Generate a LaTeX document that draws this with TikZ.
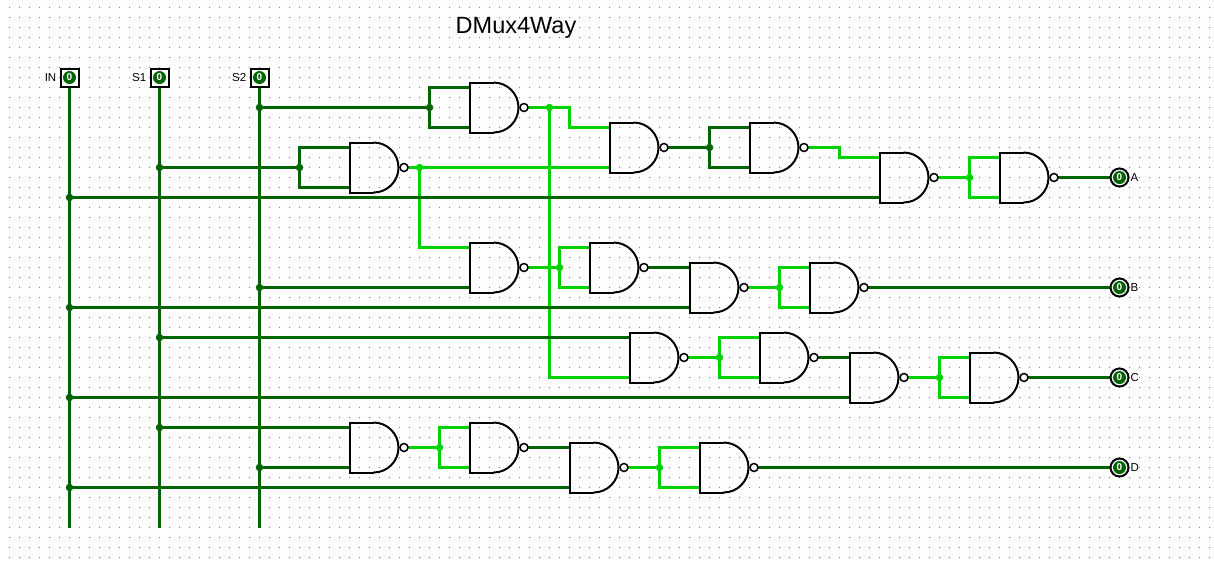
\documentclass[tikz,border=0pt]{standalone}
\usepackage{fontspec}
\setmainfont{Liberation Sans}
\usetikzlibrary{backgrounds}
\definecolor{offgreen}{RGB}{0,100,0}
\definecolor{ongreen}{RGB}{0,210,0}
\definecolor{griddot}{RGB}{128,128,128}
\tikzset{
  offwire/.style={draw=offgreen,line width=3pt},
  onwire/.style={draw=ongreen,line width=3pt},
  offjoint/.style={circle,fill=offgreen,inner sep=0pt,minimum size=7.5pt},
  onjoint/.style={circle,fill=ongreen,inner sep=0pt,minimum size=7.5pt},
  gateline/.style={draw=black,line width=2pt},
  nandg/.pic={
    \draw[gateline] (24,-25) -- (0,-25) -- (0,25) -- (24,25);
    \draw[gateline] (24,-25) arc [start angle=90,end angle=-90,radius=25pt];
    \draw[draw=black,line width=1.5pt] (54.5,0) circle [radius=4pt];
    \coordinate (-a) at (0,-20);
    \coordinate (-b) at (0,20);
    \coordinate (-out) at (58,0);
  },
  inpin/.style={rectangle,draw=black,line width=2pt,inner sep=0pt,minimum size=18pt},
  outpin/.style={circle,draw=black,line width=2pt,inner sep=0pt,minimum size=18pt},
  pinval/.style={circle,fill=offgreen,text=white,inner sep=0pt,minimum size=13pt,font=\fontsize{10}{10}\selectfont\bfseries},
  pinlabel/.style={font=\fontsize{11.5}{11.5}\selectfont,inner sep=0pt}
}
\begin{document}
\begin{tikzpicture}[x=1pt,y=-1pt]
\useasboundingbox (0.5,-0.5) rectangle (1214.5,565.5);
% editing grid
\begin{scope}[on background layer]
\fill[griddot] \foreach \gx in {10,20,...,1210} {\foreach \gy in {7,17,...,557} {(\gx-0.5,\gy-0.5) rectangle ++(1,1)}};
\end{scope}

\node[font=\fontsize{23.5}{23.5}\selectfont,inner sep=0pt,anchor=base west] (title) at (456,33) {DMux4Way};

% input pins
\node[inpin] (in) at (70,77) {};
\node[inpin] (sa) at (160,77) {};
\node[inpin] (sb) at (260,77) {};
\node[pinval] (inv) at (in) {0};
\node[pinval] (sav) at (sa) {0};
\node[pinval] (sbv) at (sb) {0};
\node[pinlabel,left=3pt] (inl) at (in.west) {IN};
\node[pinlabel,left=3pt] (sal) at (sa.west) {S1};
\node[pinlabel,left=3pt] (sbl) at (sb.west) {S2};
\coordinate (inend) at (70,527);
\coordinate (saend) at (160,527);
\coordinate (sbend) at (260,527);

% gates
\pic (n1) at (470,107) {nandg};
\pic (n2) at (350,167) {nandg};
\pic (n3) at (610,147) {nandg};
\pic (n4) at (750,147) {nandg};
\pic (n5) at (880,177) {nandg};
\pic (n6) at (1000,177) {nandg};
\pic (n7) at (470,267) {nandg};
\pic (n8) at (590,267) {nandg};
\pic (n9) at (690,287) {nandg};
\pic (n10) at (810,287) {nandg};
\pic (n11) at (630,357) {nandg};
\pic (n12) at (760,357) {nandg};
\pic (n13) at (850,377) {nandg};
\pic (n14) at (970,377) {nandg};
\pic (n15) at (350,447) {nandg};
\pic (n16) at (470,447) {nandg};
\pic (n17) at (570,467) {nandg};
\pic (n18) at (700,467) {nandg};

% output pins
\node[outpin] (pa) at (1120,177) {};
\node[outpin] (pb) at (1120,287) {};
\node[outpin] (pc) at (1120,377) {};
\node[outpin] (pd) at (1120,467) {};
\node[pinval] (pav) at (pa) {0};
\node[pinval] (pbv) at (pb) {0};
\node[pinval] (pcv) at (pc) {0};
\node[pinval] (pdv) at (pd) {0};
\node[pinlabel,right=1pt] (pal) at (pa.east) {A};
\node[pinlabel,right=1pt] (pbl) at (pb.east) {B};
\node[pinlabel,right=1pt] (pcl) at (pc.east) {C};
\node[pinlabel,right=1pt] (pdl) at (pd.east) {D};

% joints
\node[offjoint] (j1) at (260,107) {};
\node[offjoint] (j2) at (160,167) {};
\node[offjoint] (j3) at (70,197) {};
\node[offjoint] (j4) at (260,287) {};
\node[offjoint] (j5) at (70,307) {};
\node[offjoint] (j6) at (160,337) {};
\node[offjoint] (j7) at (70,397) {};
\node[offjoint] (j8) at (160,427) {};
\node[offjoint] (j9) at (260,467) {};
\node[offjoint] (j10) at (70,487) {};
\node[offjoint] (k1) at (430,107) {};
\node[offjoint] (k2) at (300,167) {};
\node[offjoint] (k3) at (710,147) {};
\node[onjoint] (m1) at (550,107) {};
\node[onjoint] (m2) at (420,167) {};
\node[onjoint] (m3) at (970,177) {};
\node[onjoint] (m4) at (560,267) {};
\node[onjoint] (m5) at (780,287) {};
\node[onjoint] (m6) at (720,357) {};
\node[onjoint] (m7) at (940,377) {};
\node[onjoint] (m8) at (440,447) {};
\node[onjoint] (m9) at (660,467) {};

\begin{scope}[on background layer]
% wires that are high
\draw[onwire] (n1-out) -- (m1) -- ++(20,0) |- (n3-a);
\draw[onwire] (m1) |- (n11-b);
\draw[onwire] (n2-out) -- (m2) -- (n3-b);
\draw[onwire] (m2) |- (n7-a);
\draw[onwire] (n4-out) -- ++(32,0) -- ++(0,10) -- (n5-a);
\draw[onwire] (n5-out) -- (m3);
\draw[onwire] (n6-a) -| (m3) |- (n6-b);
\draw[onwire] (n7-out) -- (m4);
\draw[onwire] (n8-a) -| (m4) |- (n8-b);
\draw[onwire] (n9-out) -- (m5);
\draw[onwire] (n10-a) -| (m5) |- (n10-b);
\draw[onwire] (n11-out) -- (m6);
\draw[onwire] (n12-a) -| (m6) |- (n12-b);
\draw[onwire] (n13-out) -- (m7);
\draw[onwire] (n14-a) -| (m7) |- (n14-b);
\draw[onwire] (n15-out) -- (m8);
\draw[onwire] (n16-a) -| (m8) |- (n16-b);
\draw[onwire] (n17-out) -- (m9);
\draw[onwire] (n18-a) -| (m9) |- (n18-b);
% wires that are low
\draw[offwire] (in) -- (inend);
\draw[offwire] (sa) -- (saend);
\draw[offwire] (sb) -- (sbend);
\draw[offwire] (j1) -- (k1);
\draw[offwire] (n1-a) -| (k1) |- (n1-b);
\draw[offwire] (j2) -- (k2);
\draw[offwire] (n2-a) -| (k2) |- (n2-b);
\draw[offwire] (n3-out) -- (k3);
\draw[offwire] (n4-a) -| (k3) |- (n4-b);
\draw[offwire] (j3) -- (n5-b);
\draw[offwire] (n6-out) -- (pa);
\draw[offwire] (j4) -- (n7-b);
\draw[offwire] (n8-out) -- (n9-a);
\draw[offwire] (j5) -- (n9-b);
\draw[offwire] (n10-out) -- (pb);
\draw[offwire] (j6) -- (n11-a);
\draw[offwire] (n12-out) -- (n13-a);
\draw[offwire] (j7) -- (n13-b);
\draw[offwire] (n14-out) -- (pc);
\draw[offwire] (j8) -- (n15-a);
\draw[offwire] (j9) -- (n15-b);
\draw[offwire] (n16-out) -- (n17-a);
\draw[offwire] (j10) -- (n17-b);
\draw[offwire] (n18-out) -- (pd);
\end{scope}
\end{tikzpicture}
\end{document}
